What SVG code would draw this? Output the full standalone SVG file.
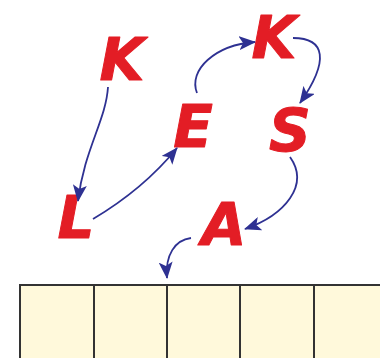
<svg xmlns="http://www.w3.org/2000/svg" width="380" height="358" viewBox="0 0 380 358">
<style>
.l{font-family:"DejaVu Sans",sans-serif;font-weight:bold;font-style:italic;font-size:58px;fill:#e31d25;stroke:#e31d25;stroke-width:1;stroke-linejoin:round;text-anchor:middle}
.c{fill:none;stroke:#2e3192;stroke-width:1.8;marker-end:url(#ah)}
.cell{fill:#fff9db;stroke:#333;stroke-width:2}
</style>
<defs>
<marker id="ah" markerWidth="17" markerHeight="14" refX="16" refY="7" orient="auto" markerUnits="userSpaceOnUse">
<path d="M0,0 L17,7 L0,14 L4,7 Z" fill="#2e3192"/>
</marker>
</defs>
<g id="table">
<rect class="cell" x="20" y="285" width="74" height="80"/>
<rect class="cell" x="94" y="285" width="73" height="80"/>
<rect class="cell" x="167" y="285" width="73" height="80"/>
<rect class="cell" x="240" y="285" width="74" height="80"/>
<rect class="cell" x="314" y="285" width="74" height="80"/>
</g>
<g id="nodeK1"><text class="l" x="122" y="80">K</text></g>
<g id="nodeE"><text class="l" x="193" y="147">E</text></g>
<g id="nodeK2"><text class="l" x="274" y="58">K</text></g>
<g id="nodeS"><text class="l" x="290" y="151">S</text></g>
<g id="nodeL"><text class="l" x="76" y="238">L</text></g>
<g id="nodeA"><text class="l" x="224" y="245">A</text></g>
<g id="connectors">
<path class="c" d="M108,87 C106,120 84,150 78,201"/>
<path class="c" d="M93,219 C125,200 155,175 177,148"/>
<path class="c" d="M197,93 C188,70 215,45 255,42"/>
<path class="c" d="M293,38 C325,38 330,60 300,103"/>
<path class="c" d="M290,157 C310,185 285,215 245,229"/>
<path class="c" d="M191,238 C175,240 165,255 167,278"/>
</g>
</svg>
